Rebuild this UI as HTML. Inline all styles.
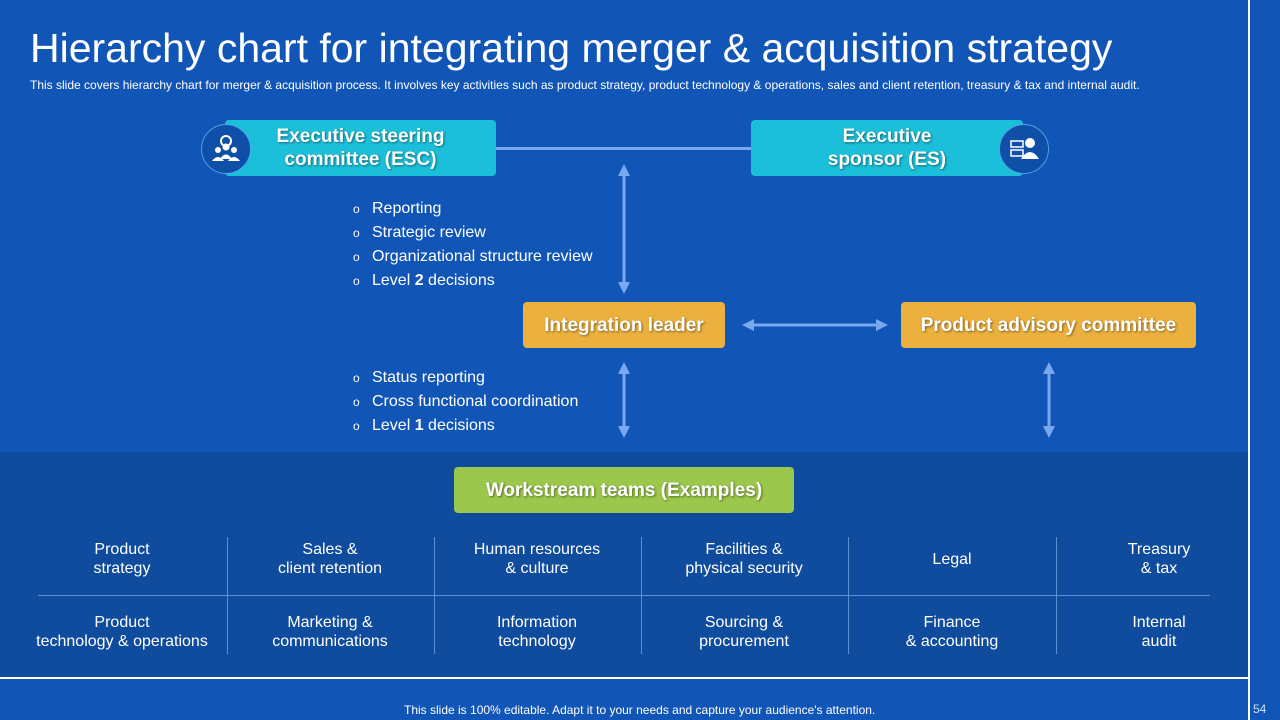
<!DOCTYPE html>
<html><head><meta charset="utf-8"><style>
*{margin:0;padding:0;box-sizing:border-box}
body{width:1280px;height:720px;background:#1155b7;position:relative;overflow:hidden;font-family:"Liberation Sans",sans-serif;color:#fff}
.a{position:absolute}
.box{position:absolute;display:flex;align-items:center;justify-content:center;text-align:center;font-weight:bold;font-size:19px;line-height:23px;border-radius:4px;text-shadow:1px 1px 2px rgba(0,0,0,.45)}
.cyan{background:#1cbfd9}
.org{background:#ebb03e}
.grn{background:#9bc74c}
.circ{position:absolute;width:50px;height:50px;border-radius:50%;background:#0f4fa8;border:1.5px solid #4aa3e8;display:flex;align-items:center;justify-content:center}
ul{list-style:none;position:absolute;font-size:16px;line-height:23px}
li:before{content:"o";display:inline-block;width:19px;font-size:12px;padding-left:3px}
.cell{position:absolute;width:200px;text-align:center;font-size:16px;line-height:19px;transform:translateX(-100px)}
.vl{position:absolute;width:1px;background:#5d8fd6}
</style></head><body>
<div class="a" style="left:30px;top:25px;font-size:41px;line-height:46px;white-space:nowrap">Hierarchy chart for integrating merger &amp; acquisition strategy</div>
<div class="a" style="left:30px;top:78px;font-size:12px;white-space:nowrap">This slide covers hierarchy chart for merger &amp; acquisition process. It involves key activities such as product strategy, product technology &amp; operations, sales and client retention, treasury &amp; tax and internal audit.</div>
<div class="a" style="left:1248px;top:0;width:2px;height:720px;background:#fff"></div>
<div class="a" style="left:0;top:452px;width:1248px;height:225px;background:#0f4c9d"></div>
<div class="a" style="left:0;top:677px;width:1248px;height:2px;background:#fff"></div>
<div class="a" style="left:404px;top:703px;font-size:12px;white-space:nowrap">This slide is 100% editable. Adapt it to your needs and capture your audience's attention.</div>
<div class="a" style="left:1253px;top:702px;font-size:12px;color:#cfe0ff">54</div>

<div class="a" style="left:495px;top:147px;width:257px;height:3px;background:#7aa8f0"></div>
<div class="box cyan" style="left:225px;top:120px;width:271px;height:56px">Executive steering<br>committee (ESC)</div>
<div class="circ" style="left:201px;top:124px"><svg width="34" height="34" viewBox="0 0 34 34" fill="#fff"><circle cx="17" cy="9" r="5" fill="none" stroke="#fff" stroke-width="2"/><circle cx="17" cy="15" r="3.5"/><circle cx="9" cy="18" r="3"/><circle cx="25" cy="18" r="3"/><path d="M11 27q6-9 12 0zM3 29q6-8 12 0zM19 29q6-8 12 0z"/></svg></div>
<div class="box cyan" style="left:751px;top:120px;width:272px;height:56px">Executive<br>sponsor (ES)</div>
<div class="circ" style="left:999px;top:124px"><svg width="34" height="34" viewBox="0 0 34 34" fill="#fff"><rect x="4" y="9" width="12" height="6" fill="none" stroke="#fff" stroke-width="1.5"/><rect x="4" y="18" width="12" height="6" fill="none" stroke="#fff" stroke-width="1.5"/><circle cx="23" cy="11" r="5"/><path d="M14 27q9-14 18 0z"/></svg></div>

<svg class="a" style="left:0;top:0" width="1280" height="720">
<defs><marker id="m" viewBox="0 0 10 10" refX="5" refY="5" markerWidth="4" markerHeight="4" orient="auto-start-reverse"><path d="M0 0L10 5L0 10z" fill="#7aa8f0"/></marker></defs>
<g stroke="#7aa8f0" stroke-width="3">
<line x1="624" y1="170" x2="624" y2="288" marker-start="url(#m)" marker-end="url(#m)"/>
<line x1="748" y1="325" x2="882" y2="325" marker-start="url(#m)" marker-end="url(#m)"/>
<line x1="624" y1="368" x2="624" y2="432" marker-start="url(#m)" marker-end="url(#m)"/>
<line x1="1049" y1="368" x2="1049" y2="432" marker-start="url(#m)" marker-end="url(#m)"/>
</g></svg>

<ul style="left:350px;top:197px"><li>Reporting</li><li>Strategic review</li><li>Organizational structure review</li><li>Level <b>2</b> decisions</li></ul>
<div class="box org" style="left:523px;top:302px;width:202px;height:46px">Integration leader</div>
<div class="box org" style="left:901px;top:302px;width:295px;height:46px">Product advisory committee</div>
<ul style="left:350px;top:366px"><li>Status reporting</li><li>Cross functional coordination</li><li>Level <b>1</b> decisions</li></ul>

<div class="box grn" style="left:454px;top:467px;width:340px;height:46px">Workstream teams (Examples)</div>

<div class="a" style="left:38px;top:595px;width:1172px;height:1px;background:#5d8fd6"></div>
<div class="vl" style="left:227px;top:537px;height:117px"></div>
<div class="vl" style="left:434px;top:537px;height:117px"></div>
<div class="vl" style="left:641px;top:537px;height:117px"></div>
<div class="vl" style="left:848px;top:537px;height:117px"></div>
<div class="vl" style="left:1056px;top:537px;height:117px"></div>

<div class="cell" style="left:122px;top:540px">Product<br>strategy</div>
<div class="cell" style="left:330px;top:540px">Sales &amp;<br>client retention</div>
<div class="cell" style="left:537px;top:540px">Human resources<br>&amp; culture</div>
<div class="cell" style="left:744px;top:540px">Facilities &amp;<br>physical security</div>
<div class="cell" style="left:952px;top:550px">Legal</div>
<div class="cell" style="left:1159px;top:540px">Treasury<br>&amp; tax</div>
<div class="cell" style="left:122px;top:613px">Product<br>technology &amp; operations</div>
<div class="cell" style="left:330px;top:613px">Marketing &amp;<br>communications</div>
<div class="cell" style="left:537px;top:613px">Information<br>technology</div>
<div class="cell" style="left:744px;top:613px">Sourcing &amp;<br>procurement</div>
<div class="cell" style="left:952px;top:613px">Finance<br>&amp; accounting</div>
<div class="cell" style="left:1159px;top:613px">Internal<br>audit</div>
</body></html>
